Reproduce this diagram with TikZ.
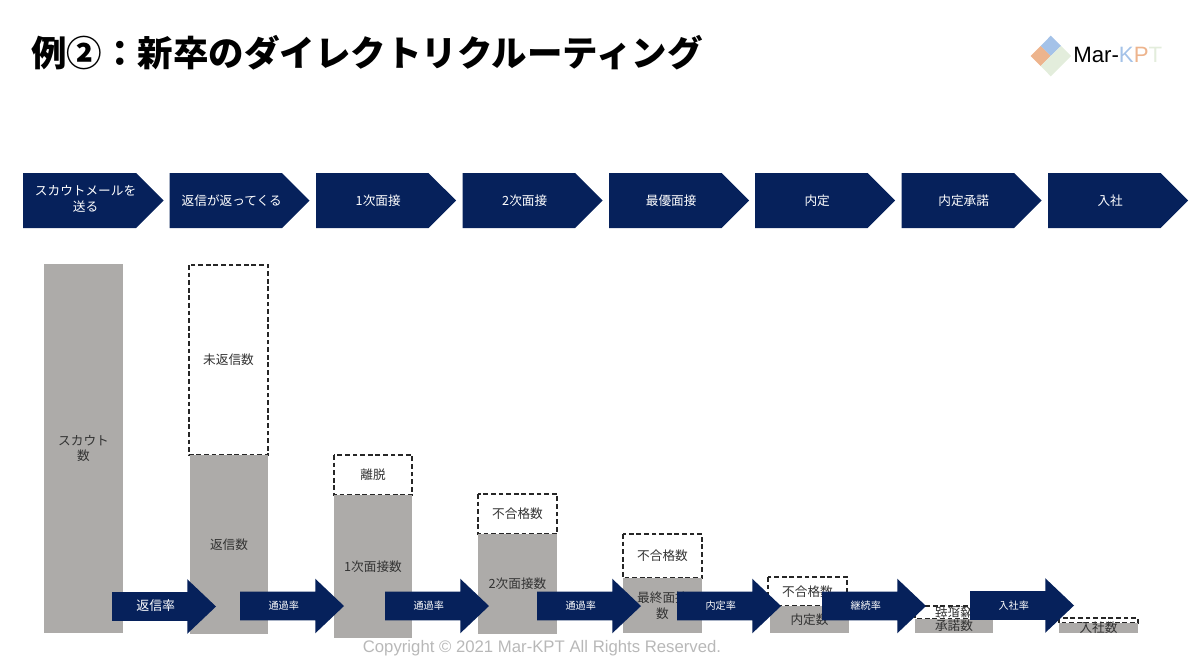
\documentclass[tikz,border=0pt]{standalone}
\usepackage{fontspec}
\setmainfont{Noto Sans CJK JP}
\newfontfamily\latinfont{Liberation Sans}
\usetikzlibrary{shapes.symbols, shapes.arrows}
\definecolor{navy}{HTML}{06215B}
\definecolor{bargray}{HTML}{ADABA9}
\definecolor{logoblue}{HTML}{A4C2E8}
\definecolor{logoorange}{HTML}{EDB48D}
\definecolor{logogreen}{HTML}{E3EDDC}
\def\px{0.025cm}

\begin{document}
\begin{tikzpicture}[
    x=\px, y=-\px,
    chevron/.style={shape=signal, signal to=east, signal pointer angle=90, fill=navy, text=white, font=\fontsize{9}{11}\selectfont, minimum width=140*\px, minimum height=55*\px, inner sep=0pt, outer sep=0pt, anchor=west, execute at begin node={\kern8.5pt}},
    bararrow/.style={shape=single arrow, fill=navy, text=white, font=\fontsize{7.2}{9}\selectfont, text height=17.8*\px, text depth=10.2*\px, minimum height=104*\px, minimum width=54*\px, single arrow head extend=13*\px, single arrow tip angle=87, inner sep=0pt, outer sep=0pt, anchor=tail, execute at end node={\kern1pt}},
    barbox/.style={fill=bargray},
    dashbox/.style={draw=black!85, dash pattern=on 3.4pt off 2pt, line width=0.8pt, fill=white},
    blab/.style={font=\fontsize{9}{11}\selectfont, text=black!80, align=center, inner sep=0pt},
]
\useasboundingbox (0,0) rectangle (1200,666);

% ── Title and logo ──
\node[anchor=west, inner sep=0pt, font=\fontsize{25.25}{30}\selectfont\bfseries] (title) at (31,53) {例②：新卒のダイレクトリクルーティング};

\fill[logoblue] (1050.7,35.7) -- (1061,46) -- (1050.7,56) -- (1040.7,46) -- cycle;
\fill[logoorange] (1030.7,56) -- (1040.7,46) -- (1050.7,56) -- (1040.7,66) -- cycle;
\fill[logogreen] (1061,46) -- (1071,56) -- (1050.7,76.3) -- (1040.7,66) -- (1050.7,56) -- cycle;
\node[anchor=west, inner sep=0pt, font=\latinfont\fontsize{15.8}{18}\selectfont] (logo) at (1073,55) {Mar-\textcolor{logoblue}{K}\textcolor{logoorange}{P}\textcolor{logogreen}{T}};

% ── Steps ──
\node[chevron] (s1) at (23,200.5) {\begin{tabular}{@{}c@{}}スカウトメールを\\送る\end{tabular}};
\node[chevron] (s2) at (169.5,200.5) {返信が返ってくる};
\node[chevron] (s3) at (316,200.5) {1次面接};
\node[chevron] (s4) at (462.5,200.5) {2次面接};
\node[chevron] (s5) at (609,200.5) {最優面接};
\node[chevron] (s6) at (755,200.5) {内定};
\node[chevron] (s7) at (901.5,200.5) {内定承諾};
\node[chevron] (s8) at (1048,200.5) {入社};

% ── Bars ──
\fill[barbox] (44,264) rectangle node[blab] (b1) {スカウト\\数} (123,633);

\draw[dashbox] (189,265) rectangle node[blab] (d2) {未返信数} (268,455);
\fill[barbox] (190,455) rectangle node[blab] (b2) {返信数} (268,634);

\draw[dashbox] (334,455) rectangle node[blab] (d3) {離脱} (412,495);
\fill[barbox] (334,495) rectangle node[blab] (b3) {1次面接数} (412,638);

\draw[dashbox] (478,494) rectangle node[blab] (d4) {不合格数} (557,534);
\fill[barbox] (478,534) rectangle node[blab] (b4) {2次面接数} (557,634);

\draw[dashbox] (623,534) rectangle node[blab] (d5) {不合格数} (702,578);
\fill[barbox] (623,578) rectangle node[blab] (b5) {最終面接\\数} (702,633);

\draw[dashbox] (768,577) rectangle node[blab] (d6) {不合格数} (847,606);
\fill[barbox] (770,606) rectangle node[blab] (b6) {内定数} (849,633);

\draw[dashbox] (915,606) rectangle node[blab, yscale=-1] (d7) {辞退数} (993,619);
\fill[barbox] (915,619) rectangle node[blab] (b7) {承諾数} (993,633);

\draw[dashbox] (1059,618) rectangle (1138,623);
\fill[barbox] (1059,623) rectangle node[blab] (b8) {入社数} (1138,633);

% ── Rate arrows ──
\node[bararrow, font=\fontsize{9.2}{11}\selectfont] (a1) at (112,606.5) {返信率};
\node[bararrow] (a2) at (240,606) {通過率};
\node[bararrow] (a3) at (385,606) {通過率};
\node[bararrow] (a4) at (537,606) {通過率};
\node[bararrow] (a5) at (677,606) {内定率};
\node[bararrow] (a6) at (822,606) {継続率};
\node[bararrow] (a7) at (970,605.5) {入社率};

% ── Footer ──
\node[inner sep=0pt, text=black!28, font=\latinfont\fontsize{11.9}{14}\selectfont] (copy) at (542,648) {Copyright © 2021 Mar-KPT All Rights Reserved.};

\end{tikzpicture}
\end{document}
